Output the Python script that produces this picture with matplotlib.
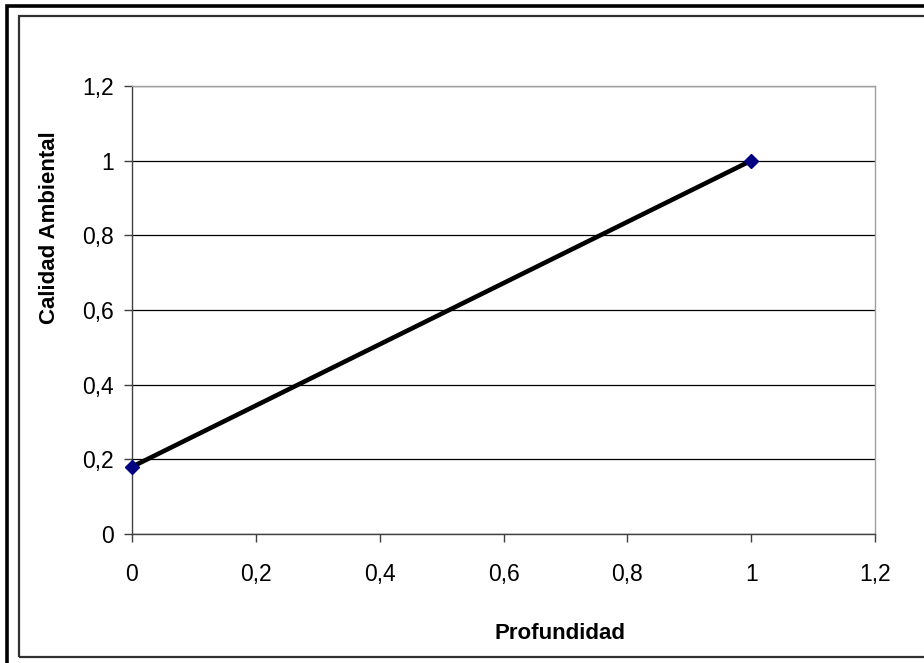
import matplotlib.pyplot as plt
from matplotlib.patches import Rectangle
from matplotlib.ticker import FuncFormatter, MultipleLocator

# ================== DATA ==================
profundidad = [0.0, 1.0]
calidad = [0.18, 1.0]

X_LABEL = "Profundidad"
Y_LABEL = "Calidad Ambiental"

plt.rcParams["font.family"] = ["Liberation Sans", "DejaVu Sans"]

W, H = 924, 663
fig = plt.figure(figsize=(W / 100, H / 100), dpi=100)

# plot area in pixel coords (left, top, right, bottom)
L, T, R, B = 132, 86, 875, 534
ax = fig.add_axes([L / W, 1 - B / H, (R - L) / W, (B - T) / H])


def comma_fmt(v, _pos):
    s = f"{v:.1f}"
    if s.endswith(".0"):
        s = s[:-2]
    return s.replace(".", ",")


ax.set_xlim(0, 1.2)
ax.set_ylim(0, 1.2)
ax.xaxis.set_major_locator(MultipleLocator(0.2))
ax.yaxis.set_major_locator(MultipleLocator(0.2))
ax.xaxis.set_major_formatter(FuncFormatter(comma_fmt))
ax.yaxis.set_major_formatter(FuncFormatter(comma_fmt))

ax.yaxis.grid(True, color="#000000", linewidth=0.9)
ax.set_axisbelow(True)

ax.plot(profundidad, calidad, color="black", linewidth=3.3, zorder=3,
        solid_capstyle="butt")
ax.plot(profundidad, calidad, linestyle="none", marker="D", markersize=7.5,
        color="#000080", zorder=4, clip_on=False)

for side in ["top", "right"]:
    ax.spines[side].set_color("#a0a0a0")
    ax.spines[side].set_linewidth(1.0)
for side in ["left", "bottom"]:
    ax.spines[side].set_color("#404040")
    ax.spines[side].set_linewidth(1.0)

ax.tick_params(axis="both", direction="out", length=6, width=1.0,
               color="#404040", labelsize=16.5)
ax.tick_params(axis="x", pad=15)
ax.tick_params(axis="y", pad=7)

ax.set_xlabel(X_LABEL, fontsize=16, fontweight="bold")
ax.set_ylabel(Y_LABEL, fontsize=16, fontweight="bold")
# title positions in pixels, converted to axes fractions
ax.xaxis.set_label_coords((560 - L) / (R - L), (B - 623) / (B - T))
ax.yaxis.set_label_coords((60 - L) / (R - L), (B - 228) / (B - T))

# chart frames (outer thick, inner thin), partly running off the canvas
fig.patches.append(Rectangle((6.5 / W, -0.2), 1.5, 1.2 - 6 / H,
                             transform=fig.transFigure, fill=False,
                             edgecolor="black", linewidth=2.6))
fig.patches.append(Rectangle((19 / W, 1 - 657 / H), 1.2, (657 - 16) / H,
                             transform=fig.transFigure, fill=False,
                             edgecolor="#303030", linewidth=1.6))

fig.savefig("out.png", dpi=100)
